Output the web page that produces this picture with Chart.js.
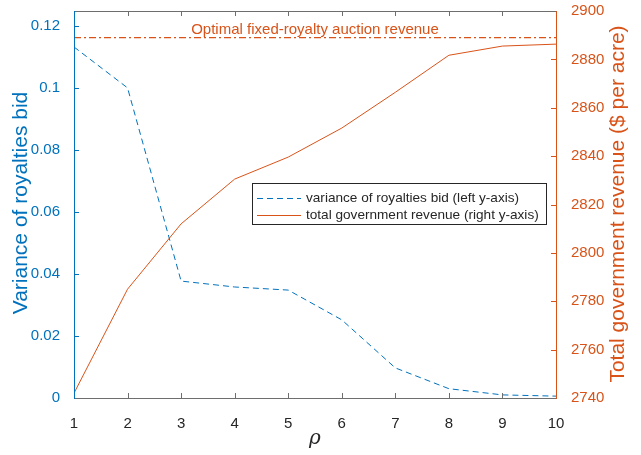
<!DOCTYPE html>
<html><head><meta charset="utf-8">
<script src="https://cdn.jsdelivr.net/npm/chart.js@4"></script>
<style>html,body{margin:0;padding:0;background:#fff}#w{width:641px;height:455px}</style>
</head><body><div id="w"><canvas id="c" width="641" height="455"></canvas></div>
<script>
const rho = [1,2,3,4,5,6,7,8,9,10];
const varianceBid = [0.1132,0.1000,0.0377,0.0358,0.0348,0.0252,0.0097,0.0030,0.0010,0.0006];
const totalRevenue = [2742,2785,2812,2830.5,2839.6,2851.6,2866.4,2881.7,2885.5,2886.3];
const optimalRevenue = 2889;
const leftTicks = [0,0.02,0.04,0.06,0.08,0.1,0.12];
const rightTicks = [2740,2760,2780,2800,2820,2840,2860,2880,2900];
const xTicks = [1,2,3,4,5,6,7,8,9,10];

const BLUE = '#0072BD', ORANGE = '#D95319', GRAY = '#262626', AXG = '#6e6e6e';
const FONT = '"Liberation Sans", Arial, sans-serif';

const boxPlugin = {
  id: 'box',
  afterDatasetsDraw(chart) {
    const {ctx, chartArea: a, scales} = chart;
    ctx.save();
    ctx.lineWidth = 1;
    ctx.strokeStyle = AXG;
    xTicks.forEach(v => {
      const x = Math.round(scales.x.getPixelForValue(v)) + 0.5;
      ctx.beginPath(); ctx.moveTo(x, a.bottom); ctx.lineTo(x, a.bottom - 5); ctx.stroke();
      ctx.beginPath(); ctx.moveTo(x, a.top); ctx.lineTo(x, a.top + 5); ctx.stroke();
    });
    ctx.strokeStyle = BLUE;
    leftTicks.forEach(v => {
      const y = Math.round(scales.y.getPixelForValue(v)) + 0.5;
      ctx.beginPath(); ctx.moveTo(a.left, y); ctx.lineTo(a.left + 5, y); ctx.stroke();
    });
    ctx.strokeStyle = ORANGE;
    rightTicks.forEach(v => {
      const y = Math.round(scales.y2.getPixelForValue(v)) + 0.5;
      ctx.beginPath(); ctx.moveTo(a.right, y); ctx.lineTo(a.right - 5, y); ctx.stroke();
    });
    ctx.strokeStyle = AXG;
    ctx.beginPath(); ctx.moveTo(a.left, a.top + 0.5); ctx.lineTo(a.right, a.top + 0.5); ctx.stroke();
    ctx.beginPath(); ctx.moveTo(a.left, a.bottom + 0.5); ctx.lineTo(a.right, a.bottom + 0.5); ctx.stroke();
    ctx.strokeStyle = BLUE;
    ctx.beginPath(); ctx.moveTo(a.left + 0.5, a.top); ctx.lineTo(a.left + 0.5, a.bottom + 1); ctx.stroke();
    ctx.strokeStyle = ORANGE;
    ctx.beginPath(); ctx.moveTo(a.right + 0.5, a.top); ctx.lineTo(a.right + 0.5, a.bottom + 1); ctx.stroke();

    // optimal label
    ctx.fillStyle = ORANGE;
    ctx.font = '15px ' + FONT;
    ctx.textAlign = 'center'; ctx.textBaseline = 'alphabetic';
    ctx.fillText('Optimal fixed-royalty auction revenue', 315, 34);

    // legend
    const lx = 252, ly = 183, lw = 294, lh = 41;
    ctx.fillStyle = '#fff';
    ctx.fillRect(lx, ly, lw, lh);
    ctx.strokeStyle = GRAY;
    ctx.strokeRect(lx + 0.5, ly + 0.5, lw, lh);
    ctx.strokeStyle = BLUE; ctx.setLineDash([6,4]);
    ctx.beginPath(); ctx.moveTo(257, 198.5); ctx.lineTo(301, 198.5); ctx.stroke();
    ctx.setLineDash([]);
    ctx.strokeStyle = ORANGE;
    ctx.beginPath(); ctx.moveTo(257, 215.5); ctx.lineTo(301, 215.5); ctx.stroke();
    ctx.fillStyle = GRAY; ctx.textAlign = 'left'; ctx.textBaseline = 'middle';
    ctx.font = '13.6px ' + FONT;
    ctx.fillText('variance of royalties bid (left y-axis)', 306, 198);
    ctx.fillText('total government revenue (right y-axis)', 306, 215);

    // axis titles
    ctx.font = '21px ' + FONT;
    ctx.textAlign = 'center';
    ctx.fillStyle = BLUE;
    ctx.save(); ctx.translate(21, 203); ctx.rotate(-Math.PI/2);
    ctx.fillText('Variance of royalties bid', 0, 0); ctx.restore();
    ctx.fillStyle = ORANGE;
    ctx.save(); ctx.translate(618, 204); ctx.rotate(-Math.PI/2);
    ctx.fillText('Total government revenue ($ per acre)', 0, 0); ctx.restore();

    // x title
    ctx.font = 'italic 20px "DejaVu Serif", serif';
    ctx.fillStyle = GRAY;
    ctx.fillText('ρ', 315, 439);
    ctx.restore();
  }
};

const noPad = s => { s.paddingTop = 0; s.paddingBottom = 0; };

new Chart(document.getElementById('c'), {
  type: 'line',
  data: {
    datasets: [
      {label: 'variance', data: rho.map((r,i)=>({x:r,y:varianceBid[i]})), yAxisID: 'y',
       borderColor: BLUE, borderWidth: 1, borderDash: [6,4], pointRadius: 0, fill: false, tension: 0},
      {label: 'revenue', data: rho.map((r,i)=>({x:r,y:totalRevenue[i]})), yAxisID: 'y2',
       borderColor: ORANGE, borderWidth: 1, pointRadius: 0, fill: false, tension: 0},
      {label: 'optimal', data: [{x:rho[0],y:optimalRevenue},{x:rho[rho.length-1],y:optimalRevenue}], yAxisID: 'y2',
       borderColor: ORANGE, borderWidth: 1.3, borderDash: [7,3,2,3], pointRadius: 0, fill: false}
    ]
  },
  options: {
    responsive: false, animation: false,
    layout: {padding: {top: 11, left: 0, right: 0, bottom: 0}},
    plugins: {legend: {display: false}, tooltip: {enabled: false}},
    scales: {
      x: {type: 'linear', min: 1, max: 10,
        afterBuildTicks: s => { s.ticks = xTicks.map(v=>({value:v})); },
        afterFit: s => { s.height = 57; s.paddingLeft = 0; s.paddingRight = 0; },
        grid: {display: false}, border: {display: false},
        ticks: {color: GRAY, font: {family: FONT, size: 15}, padding: 9}},
      y: {position: 'left', min: 0, max: 0.1248,
        afterBuildTicks: s => { s.ticks = leftTicks.map(v=>({value:v})); },
        afterFit: s => { s.width = 74; noPad(s); },
        grid: {display: false}, border: {display: false},
        ticks: {color: BLUE, font: {family: FONT, size: 15}, padding: 6,
          callback: v => String(Math.round(v*100)/100)}},
      y2: {position: 'right', min: 2740, max: 2900,
        afterBuildTicks: s => { s.ticks = rightTicks.map(v=>({value:v})); },
        afterFit: s => { s.width = 85; noPad(s); },
        grid: {display: false}, border: {display: false},
        ticks: {color: ORANGE, font: {family: FONT, size: 15}, padding: 7,
          callback: v => String(v)}}
    }
  },
  plugins: [boxPlugin]
});
</script></body></html>
